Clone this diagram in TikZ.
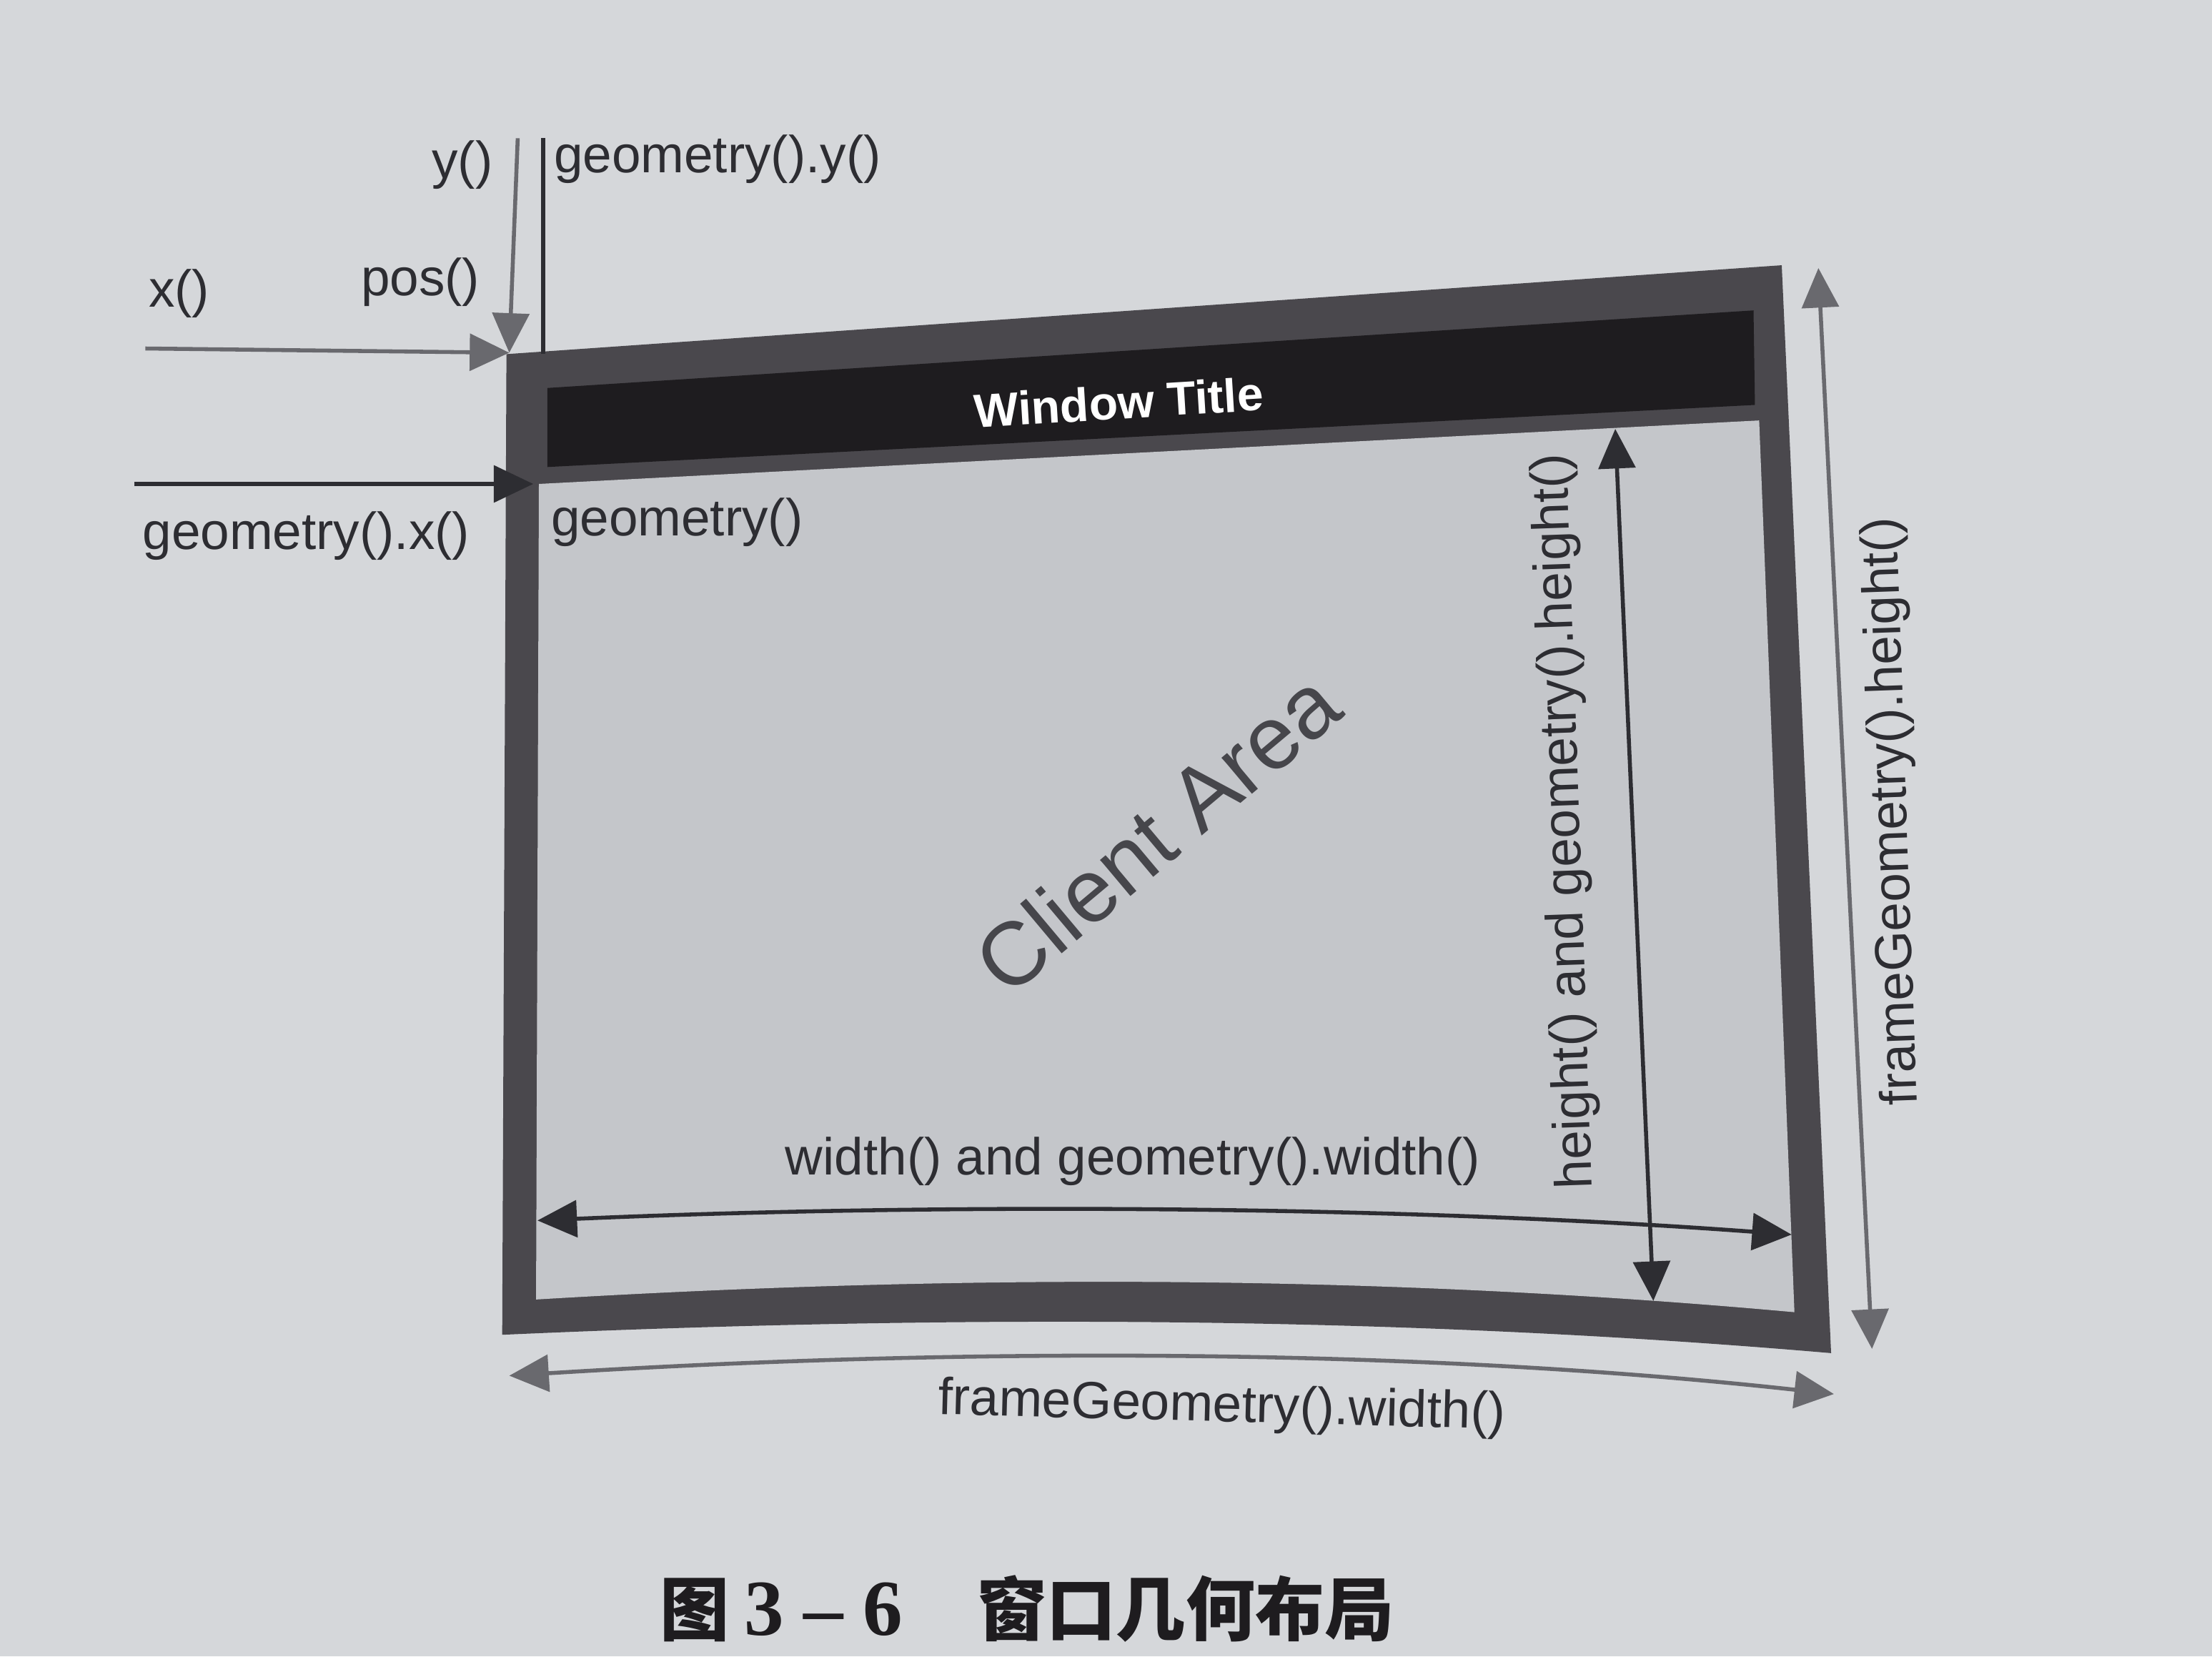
\documentclass[tikz,border=0pt]{standalone}
\usepackage{fontspec}
\setsansfont{Liberation Sans}
\newfontfamily\cjkfont{Noto Sans CJK SC}
\newfontfamily\numfont{Liberation Serif}
\usetikzlibrary{arrows.meta}
\definecolor{paper}{RGB}{213,215,218}
\definecolor{framegray}{RGB}{74,72,77}
\definecolor{clientgray}{RGB}{196,198,202}
\definecolor{titleblack}{RGB}{30,28,31}
\definecolor{ink}{RGB}{45,45,50}
\definecolor{arrowgray}{RGB}{105,105,110}
\definecolor{areagray}{RGB}{70,70,75}
\newcommand{\labelfont}{\sffamily\fontsize{10.5}{12}\selectfont}

\begin{document}
\begin{tikzpicture}[x=0.01cm,y=-0.01cm,
	lbl/.style={font=\labelfont,text=ink,inner sep=0pt},
	onehead/.style={-{Triangle[length=2.8mm,width=2.6mm]}},
	twohead/.style={{Triangle[length=2.8mm,width=2.6mm]}-{Triangle[length=2.8mm,width=2.6mm]}},
	gline/.style={draw=arrowgray,line width=0.8pt},
	kline/.style={draw=ink,line width=0.8pt}]
	\fill[paper] (0,0) rectangle (1568,1174);
	\useasboundingbox (0,0) rectangle (1568,1174);

	\coordinate (FTL) at (359,251);
	\coordinate (FTR) at (1263,188);
	\coordinate (FBR) at (1298,959);
	\coordinate (FBL) at (356,946);
	\coordinate (CTL) at (382,343);
	\coordinate (CTR) at (1247,298);
	\coordinate (CBR) at (1272,930);
	\coordinate (CBL) at (380,921);
	\coordinate (TTL) at (388,275);
	\coordinate (TTR) at (1243,220);
	\coordinate (TBR) at (1244,287);
	\coordinate (TBL) at (388,331);

	\fill[framegray] (FTL) -- (FTR) -- (FBR) .. controls (985,932) and (670,932) .. (FBL) -- cycle;
	\fill[clientgray] (CTL) -- (CTR) -- (CBR) .. controls (975,903) and (680,903) .. (CBL) -- cycle;
	\fill[titleblack] (TTL) -- (TTR) -- (TBR) -- (TBL) -- cycle;

	\node[font=\sffamily\bfseries\fontsize{9.5}{11}\selectfont, text=white, rotate=3.5] (title) at (793,285) {Window Title};
	\node[lbl, anchor=west] (geo) at (390,370) {geometry()};
	\node[font=\sffamily\fontsize{18}{20}\selectfont, text=areagray, rotate=40] (client) at (820,590) {Client Area};

	\coordinate (pos) at (361,250);
	\coordinate (ytop) at (367,98);
	\coordinate (gytop) at (385,98);
	\coordinate (gyend) at (385,251);
	\coordinate (xleft) at (103,247);
	\coordinate (gxleft) at (95,343);
	\coordinate (gxend) at (378,343);
	\draw[gline, onehead] (ytop) -- (pos);
	\draw[gline, onehead] (xleft) -- (pos);
	\draw[kline] (gytop) -- (gyend);
	\draw[kline, onehead] (gxleft) -- (gxend);

	\node[lbl, anchor=east] (ylbl) at (350,117) {y()};
	\node[lbl, anchor=west] (gylbl) at (392,113) {geometry().y()};
	\node[lbl] (xlbl) at (127,208) {x()};
	\node[lbl] (poslbl) at (298,200) {pos()};
	\node[lbl] (gxlbl) at (217,380) {geometry().x()};

	\coordinate (wl) at (381,865);
	\coordinate (wr) at (1270,875);
	\draw[kline, twohead] (wl) .. controls (680,852) and (1000,855) .. (wr);
	\node[lbl] (wlbl) at (803,823) {width() and geometry().width()};
	\coordinate (ht) at (1145,304);
	\coordinate (hb) at (1172,922);
	\draw[kline, twohead] (ht) -- (hb);
	\node[lbl, rotate=92] (hlbl) at (1110,582) {height() and geometry().height()};

	\coordinate (fwl) at (361,975);
	\coordinate (fwr) at (1300,988);
	\draw[gline, twohead] (fwl) .. controls (680,955) and (1000,955) .. (fwr);
	\node[lbl, rotate=-1.5] (fwlbl) at (866,998) {frameGeometry().width()};
	\coordinate (fht) at (1289,190);
	\coordinate (fhb) at (1327,956);
	\draw[gline, twohead] (fht) -- (fhb);
	\node[lbl, rotate=92] (fhlbl) at (1342,575) {frameGeometry().height()};

	\node[text=titleblack, inner sep=0pt] (caption) at (728,1140)
		{{\cjkfont\bfseries\fontsize{14}{16}\selectfont 图}\hspace{3pt}{\numfont\bfseries\fontsize{16}{18}\selectfont 3\hspace{4pt}–\hspace{4pt}6}\hspace{15pt}{\cjkfont\bfseries\fontsize{14}{16}\selectfont 窗口几何布局}};
\end{tikzpicture}
\end{document}
